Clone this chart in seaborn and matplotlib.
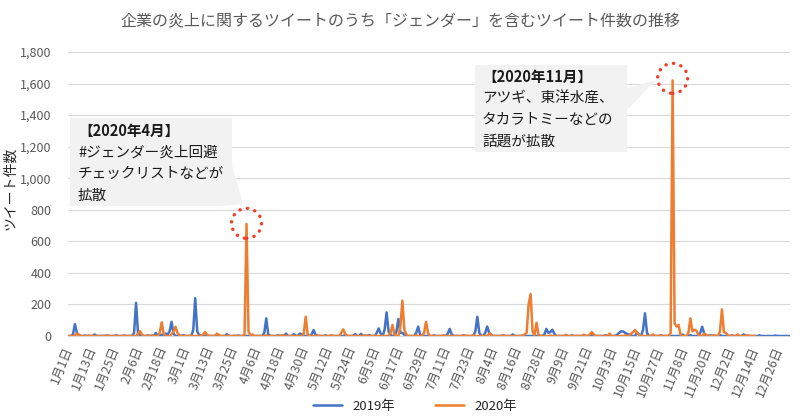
import numpy as np
import pandas as pd
import matplotlib
matplotlib.use("Agg")
import matplotlib.pyplot as plt
import seaborn as sns
from matplotlib.patches import Polygon, Ellipse

# ---------------------------------------------------------------
# Data (day index 0 = 1月1日)
# ---------------------------------------------------------------
title = "企業の炎上に関するツイートのうち「ジェンダー」を含むツイート件数の推移"
y_label = "ツイート件数"
series_names = ["2019年", "2020年"]
n_days = 366          # category axis follows the 2020 calendar
last_day_2020 = 348   # 2020 data stops at 12月14日

# days that are not listed are ~0
days_2019 = [2, 3, 4, 5, 8, 13, 19, 24, 28,
             33, 34, 35, 36, 40, 44, 47, 49, 50, 51, 52, 53, 58,
             63, 64, 65, 66, 70, 75, 80, 86,
             99, 100, 101, 106, 110, 114, 117, 118,
             123, 124, 125, 130, 140, 145, 148, 152,
             156, 157, 158, 160, 161, 162, 163, 166, 167, 168, 169, 170,
             176, 177, 178, 185, 192, 193, 194,
             200, 206, 207, 208, 211, 212, 213, 214, 220, 225, 230,
             241, 242, 243, 244, 245, 246, 255, 265, 272,
             278, 279, 280, 281, 282, 283, 284, 288, 289, 291, 292, 293,
             300, 311, 315, 320, 321, 322, 325, 330, 336, 342, 350, 358]
counts_2019 = [8, 75, 20, 5, 3, 10, 3, 4, 3,
               20, 210, 15, 5, 4, 20, 8, 15, 10, 30, 90, 15, 5,
               40, 240, 30, 5, 5, 4, 12, 3,
               20, 112, 10, 5, 15, 12, 15, 10,
               10, 38, 8, 4, 5, 12, 14, 6,
               20, 48, 15, 40, 150, 30, 8, 30, 108, 20, 20, 8,
               20, 59, 10, 4, 15, 45, 10,
               4, 30, 122, 20, 20, 60, 20, 8, 4, 10, 3,
               10, 45, 20, 25, 40, 15, 4, 4, 5,
               10, 22, 30, 28, 20, 12, 8, 20, 10, 40, 144, 20,
               5, 10, 5, 20, 59, 15, 5, 5, 4, 10, 4, 3]

days_2020 = [3, 4, 5, 10, 20, 28,
             35, 36, 37, 42, 46, 47, 48, 52, 53, 54, 55, 56,
             62, 68, 69, 70, 75, 76, 84, 89, 90, 91, 92, 93,
             100, 108, 119, 120, 121, 126, 133, 138, 139, 140,
             150, 155, 163, 164, 165, 168, 169, 170, 171,
             176, 180, 181, 182, 190, 200, 205, 213, 214, 220,
             231, 232, 233, 234, 235, 236, 237, 238,
             244, 252, 261, 264, 265, 266, 274,
             282, 285, 286, 287, 288, 289, 296,
             300, 305, 306, 307, 308, 309, 310,
             314, 315, 316, 317, 318, 319, 322, 323, 327,
             330, 331, 332, 333, 334, 339, 344]
counts_2020 = [5, 15, 8, 3, 3, 3,
               15, 30, 8, 4, 20, 87, 15, 10, 30, 59, 20, 5,
               3, 10, 25, 8, 15, 5, 3, 10, 710, 30, 5, 10,
               4, 5, 15, 122, 10, 3, 5, 20, 42, 15,
               4, 3, 20, 70, 10, 60, 224, 40, 10,
               5, 20, 90, 20, 4, 4, 5, 15, 10, 3,
               10, 20, 200, 266, 30, 5, 84, 10,
               3, 8, 8, 10, 25, 10, 15,
               5, 15, 25, 38, 20, 8, 10,
               3, 20, 1620, 80, 60, 70, 10,
               20, 112, 30, 40, 35, 10, 15, 8, 5,
               30, 169, 25, 20, 5, 10, 5]

tick_labels = ["1月1日", "1月13日", "1月25日", "2月6日", "2月18日", "3月1日",
               "3月13日", "3月25日", "4月6日", "4月18日", "4月30日", "5月12日",
               "5月24日", "6月5日", "6月17日", "6月29日", "7月11日", "7月23日",
               "8月4日", "8月16日", "8月28日", "9月9日", "9月21日", "10月3日",
               "10月15日", "10月27日", "11月8日", "11月20日", "12月2日",
               "12月14日", "12月26日"]

note_april = ["【2020年4月】", "#ジェンダー炎上回避", "チェックリストなどが", "拡散"]
note_november = ["【2020年11月】", "アツギ、東洋水産、", "タカラトミーなどの", "話題が拡散"]
peak_april = (90, 714)
peak_november = (306, 1633)

# ---------------------------------------------------------------
# Build long table
# ---------------------------------------------------------------
s2019 = np.zeros(n_days)
s2019[days_2019] = counts_2019
s2020 = np.zeros(last_day_2020 + 1)
s2020[days_2020] = counts_2020

df = pd.concat([
    pd.DataFrame({"day": np.arange(n_days), "count": s2019, "year": series_names[0]}),
    pd.DataFrame({"day": np.arange(last_day_2020 + 1), "count": s2020, "year": series_names[1]}),
], ignore_index=True)

# ---------------------------------------------------------------
# Plot
# ---------------------------------------------------------------
sns.set_theme(style="white")
plt.rcParams["font.family"] = ["Noto Sans CJK JP", "DejaVu Sans"]

W, H = 800, 419
fig = plt.figure(figsize=(W / 100, H / 100), dpi=100)
fig.patch.set_facecolor("white")


def fx(px):
    return px / W


def fy(py):
    return 1 - py / H


ax_l, ax_r, ax_t, ax_b = 68, 790, 52, 336
ax = fig.add_axes([fx(ax_l), fy(ax_b), (ax_r - ax_l) / W, (ax_b - ax_t) / H])

palette = {series_names[0]: "#4472C4", series_names[1]: "#ED7D31"}
sns.lineplot(data=df, x="day", y="count", hue="year", palette=palette,
             linewidth=1.8, estimator=None, ax=ax)

ax.set_xlim(-0.5, n_days - 0.5)
ax.set_ylim(0, 1800)
ax.set_yticks(range(0, 1801, 200))
ax.set_yticklabels([f"{v:,}" for v in range(0, 1801, 200)])
ax.set_xticks(range(0, 361, 12))
ax.set_xticklabels(tick_labels, rotation=68, ha="right", va="center",
                   rotation_mode="anchor")
ax.tick_params(axis="both", length=0, colors="#595959", labelsize=9)
ax.tick_params(axis="x", pad=8)
ax.tick_params(axis="y", pad=12)
ax.set_xlabel("")
ax.set_ylabel("")
ax.grid(axis="y", color="#D9D9D9", linewidth=0.8)
ax.set_axisbelow(True)
for side in ["top", "right", "left"]:
    ax.spines[side].set_visible(False)
ax.spines["bottom"].set_color("#D9D9D9")
ax.spines["bottom"].set_linewidth(0.8)

handles, labels = ax.get_legend_handles_labels()
ax.legend_.remove()
fig.legend(handles, labels, loc="center", bbox_to_anchor=(fx(415), fy(406)),
           ncol=2, frameon=False, fontsize=9.5, handlelength=2.2,
           columnspacing=3.0, labelcolor="#262626")

fig.text(0.5, fy(22), title, ha="center", va="center", fontsize=11.5,
         color="#595959")
fig.text(fx(10), fy(188), y_label, rotation=90, ha="center", va="center",
         fontsize=10, color="#262626")

# dotted circles around the two spikes
px_per_day = (ax_r - ax_l) / n_days
px_per_unit = (ax_b - ax_t) / 1800
r_px = 15
for cx, cy in [peak_april, peak_november]:
    circ = Ellipse((cx, cy), width=2 * r_px / px_per_day,
                   height=2 * r_px / px_per_unit, fill=False,
                   edgecolor="#F0402A", linewidth=2.4,
                   linestyle=(0, (0.1, 2.2)), clip_on=False, zorder=5)
    circ.set_capstyle("round")
    ax.add_patch(circ)

# callout boxes
box_april = [(70, 118), (232, 118), (232, 165), (243, 204), (222, 206), (70, 206)]
box_november = [(475, 65), (627, 65), (627, 88), (656, 80), (627, 110),
                (627, 152), (475, 152)]
for pts in [box_april, box_november]:
    fig.patches.append(Polygon([(fx(x), fy(y)) for x, y in pts], closed=True,
                               transform=fig.transFigure, facecolor="#F2F2F2",
                               edgecolor="none", zorder=3))

for lines, x0, y0 in [(note_april, 78, 131), (note_november, 482, 77)]:
    for i, line in enumerate(lines):
        fig.text(fx(x0), fy(y0 + i * 21.7), line, ha="left", va="center",
                 fontsize=10.5, color="#1a1a1a",
                 fontweight="bold" if i == 0 else "normal", zorder=4)

fig.savefig("out.png", dpi=100, facecolor="white")
